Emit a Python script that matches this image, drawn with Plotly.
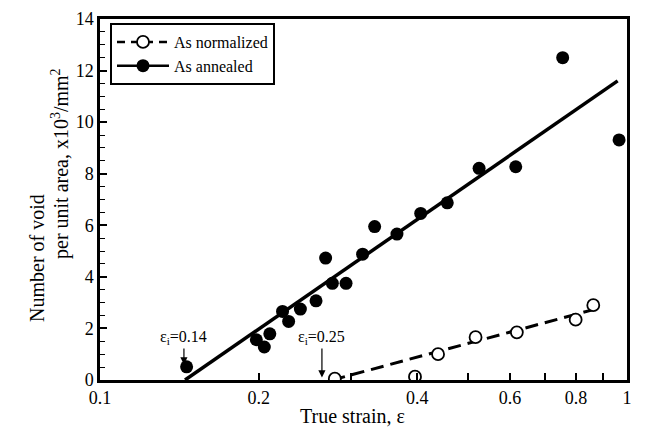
import math
import plotly.graph_objects as go

# Data
annealed_strain = [0.146, 0.198, 0.205, 0.210, 0.222, 0.228, 0.240, 0.257, 0.268, 0.276,
                   0.293, 0.315, 0.332, 0.366, 0.406, 0.456, 0.524, 0.615, 0.755, 0.966]
annealed_voids = [0.51, 1.56, 1.28, 1.79, 2.66, 2.27, 2.75, 3.07, 4.73, 3.75,
                  3.75, 4.88, 5.95, 5.66, 6.46, 6.87, 8.21, 8.27, 12.5, 9.31]

normalized_strain = [0.279, 0.396, 0.438, 0.516, 0.618, 0.799, 0.863]
normalized_voids = [0.05, 0.13, 1.00, 1.66, 1.85, 2.34, 2.90]

annealed_fit_strain = [0.145, 0.96]
annealed_fit_voids = [0.0, 11.6]
normalized_fit_strain = [0.276, 0.86]
normalized_fit_voids = [0.0, 2.72]

onset_strain = [0.1443, 0.2637]
onset_labels = ["ε<sub>i</sub>=0.14", "ε<sub>i</sub>=0.25"]
onset_arrow_y = [0.6, 0.1]

x_tickvals = [0.1, 0.2, 0.3, 0.4, 0.5, 0.6, 0.7, 0.8, 0.9, 1.0]
x_ticktext = ["0.1", "0.2", "", "0.4", "", "0.6", "", "0.8", "", "1"]

FONT = "Liberation Serif, Times New Roman, serif"

fig = go.Figure()

# fit lines
fig.add_trace(go.Scatter(x=normalized_fit_strain, y=normalized_fit_voids, mode="lines",
                         line=dict(color="black", width=3, dash="13px,7px"), showlegend=False))
fig.add_trace(go.Scatter(x=annealed_fit_strain, y=annealed_fit_voids, mode="lines",
                         line=dict(color="black", width=3.5), showlegend=False))
# data points
fig.add_trace(go.Scatter(x=normalized_strain, y=normalized_voids, mode="markers",
                         marker=dict(symbol="circle", size=12, color="white",
                                     line=dict(color="black", width=1.8)),
                         showlegend=False))
fig.add_trace(go.Scatter(x=annealed_strain, y=annealed_voids, mode="markers",
                         marker=dict(symbol="circle", size=13, color="black"),
                         showlegend=False))
# legend entries
fig.add_trace(go.Scatter(x=[None], y=[None], mode="lines+markers", name="As normalized",
                         line=dict(color="black", width=2.5, dash="8px,6px"),
                         marker=dict(symbol="circle", size=12, color="white",
                                     line=dict(color="black", width=1.8))))
fig.add_trace(go.Scatter(x=[None], y=[None], mode="lines+markers", name="As annealed",
                         line=dict(color="black", width=2.5),
                         marker=dict(symbol="circle", size=13, color="black")))

# plot-area geometry in window pixels
PX0, PX1, PY0, PY1 = 100, 627, 19, 380
PW, PH = PX1 - PX0, PY1 - PY0
YPX = PH / 14.0

annotations = []
for xs, lab, ya in zip(onset_strain, onset_labels, onset_arrow_y):
    annotations.append(dict(x=math.log10(xs), y=1.65, xref="x", yref="y", text=lab,
                            showarrow=False, font=dict(family=FONT, size=16, color="black"),
                            xanchor="center", yanchor="middle"))
    tail_px = 347
    head_px = PY1 - ya * YPX
    annotations.append(dict(x=math.log10(xs), y=ya, xref="x", yref="y", text="",
                            showarrow=True, arrowhead=2, arrowsize=1.2, arrowwidth=1.2,
                            arrowcolor="black", ax=0, ay=-(head_px - tail_px),
                            standoff=0, startstandoff=0))

# axis titles (positions given in window pixels)
titles = [("Number of void", 37, 258, -90, 20),
          ("per unit area, x10<sup>3</sup>/mm<sup>2</sup>", 60, 164, -90, 20),
          ("True strain, ε", 352, 416, 0, 20)]
for txt, px, py, ang, fs in titles:
    annotations.append(dict(x=(px - PX0) / PW, y=(PY1 - py) / PH, xref="paper", yref="paper",
                            text=txt, showarrow=False, textangle=ang,
                            xanchor="center", yanchor="middle",
                            font=dict(family=FONT, size=fs, color="black")))

# page body has an 8px margin: shift the figure so the plot area lands where the reference's is
OFF = 8
W, H = 645 - OFF, 433 - OFF
L, T = PX0 - OFF, PY0 - OFF
R, B = W + OFF - PX1, H + OFF - PY1

fig.update_layout(
    width=W, height=H,
    margin=dict(l=L, r=R, t=T, b=B, autoexpand=False),
    paper_bgcolor="white", plot_bgcolor="white",
    font=dict(family=FONT, size=18, color="black"),
    showlegend=True,
    legend=dict(x=10 / PW, y=(PY1 - 23) / PH, xanchor="left", yanchor="top",
                bgcolor="white", bordercolor="black", borderwidth=2,
                font=dict(family=FONT, size=16, color="black"),
                tracegroupgap=0, itemwidth=52),
    annotations=annotations,
    xaxis=dict(type="log", range=[-1, 0], tickvals=x_tickvals, ticktext=x_ticktext,
               ticks="inside", ticklen=7, tickwidth=1.5, tickcolor="black",
               showline=True, linecolor="black", linewidth=2.5, mirror=True,
               showgrid=False, zeroline=False, automargin=False,
               tickfont=dict(family=FONT, size=18)),
    yaxis=dict(range=[0, 14], dtick=2, ticks="inside", ticklen=7, tickwidth=1.5,
               tickcolor="black", automargin=False,
               minor=dict(dtick=0.5, ticks="inside", ticklen=5, tickwidth=1.2, tickcolor="black"),
               showline=True, linecolor="black", linewidth=2.5, mirror=True,
               showgrid=False, zeroline=False,
               tickfont=dict(family=FONT, size=18)),
)

fig.write_html("out.html")
